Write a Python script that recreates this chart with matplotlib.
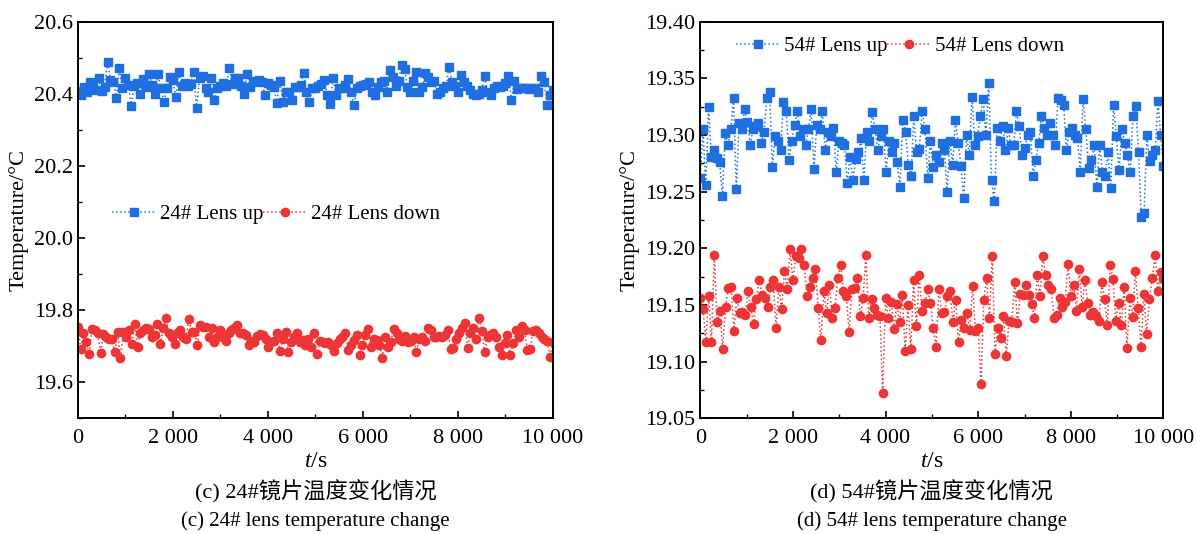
import numpy as np
import matplotlib
matplotlib.use("Agg")
import matplotlib.pyplot as plt
from matplotlib.ticker import MultipleLocator, FuncFormatter

plt.rcParams['font.family'] = ['Liberation Serif', 'Noto Sans CJK SC', 'DejaVu Sans']
plt.rcParams['mathtext.fontset'] = 'custom'
plt.rcParams['mathtext.it'] = 'Liberation Serif:italic'
plt.rcParams['mathtext.rm'] = 'Liberation Serif'

# ---- data: panel (c) 24# lens ----
lens24_up = [20.408, 20.397, 20.420, 20.406, 20.434, 20.423, 20.411, 20.443, 20.408, 20.420,
             20.490, 20.439, 20.434, 20.388, 20.471, 20.416, 20.443, 20.425, 20.366, 20.423,
             20.429, 20.401, 20.441, 20.420, 20.455, 20.425, 20.401, 20.455, 20.416, 20.377,
             20.417, 20.448, 20.439, 20.392, 20.462, 20.423, 20.429, 20.423, 20.427, 20.462,
             20.360, 20.443, 20.451, 20.416, 20.404, 20.443, 20.383, 20.416, 20.423, 20.429,
             20.423, 20.473, 20.427, 20.443, 20.445, 20.423, 20.401, 20.455, 20.420, 20.434,
             20.436, 20.439, 20.434, 20.397, 20.429, 20.425, 20.420, 20.374, 20.436, 20.377,
             20.404, 20.406, 20.383, 20.420, 20.420, 20.425, 20.457, 20.404, 20.378, 20.416,
             20.417, 20.423, 20.427, 20.439, 20.397, 20.371, 20.443, 20.397, 20.417, 20.416,
             20.425, 20.441, 20.406, 20.369, 20.417, 20.423, 20.425, 20.427, 20.434, 20.404,
             20.397, 20.420, 20.434, 20.436, 20.406, 20.467, 20.448, 20.423, 20.436, 20.481,
             20.469, 20.420, 20.404, 20.436, 20.460, 20.406, 20.420, 20.457, 20.448, 20.434,
             20.436, 20.401, 20.406, 20.417, 20.423, 20.476, 20.434, 20.423, 20.406, 20.453,
             20.434, 20.423, 20.411, 20.401, 20.397, 20.399, 20.411, 20.451, 20.404, 20.397,
             20.417, 20.423, 20.420, 20.423, 20.429, 20.451, 20.383, 20.436, 20.414, 20.417,
             20.416, 20.417, 20.414, 20.416, 20.417, 20.404, 20.451, 20.432, 20.369, 20.397,
             20.411]
lens24_down = [19.754, 19.693, 19.735, 19.712, 19.677, 19.747, 19.745, 19.737, 19.681, 19.734,
               19.724, 19.721, 19.721, 19.683, 19.740, 19.668, 19.740, 19.724, 19.745, 19.706,
               19.761, 19.698, 19.737, 19.745, 19.749, 19.747, 19.724, 19.731, 19.761, 19.706,
               19.749, 19.777, 19.735, 19.724, 19.706, 19.735, 19.745, 19.724, 19.721, 19.774,
               19.740, 19.740, 19.703, 19.758, 19.754, 19.752, 19.724, 19.749, 19.710, 19.726,
               19.745, 19.724, 19.714, 19.735, 19.745, 19.749, 19.758, 19.737, 19.735, 19.731,
               19.703, 19.714, 19.712, 19.728, 19.734, 19.731, 19.721, 19.698, 19.712, 19.714,
               19.735, 19.686, 19.719, 19.740, 19.683, 19.712, 19.726, 19.735, 19.710, 19.717,
               19.703, 19.721, 19.698, 19.737, 19.677, 19.714, 19.712, 19.708, 19.710, 19.703,
               19.686, 19.708, 19.721, 19.726, 19.735, 19.690, 19.703, 19.717, 19.731, 19.674,
               19.703, 19.731, 19.747, 19.698, 19.721, 19.717, 19.703, 19.668, 19.724, 19.698,
               19.712, 19.747, 19.735, 19.721, 19.714, 19.728, 19.712, 19.714, 19.726, 19.683,
               19.721, 19.726, 19.714, 19.749, 19.745, 19.726, 19.724, 19.728, 19.726, 19.731,
               19.745, 19.693, 19.696, 19.721, 19.737, 19.749, 19.763, 19.696, 19.737, 19.749,
               19.719, 19.779, 19.743, 19.683, 19.726, 19.731, 19.737, 19.724, 19.698, 19.674,
               19.708, 19.731, 19.674, 19.708, 19.745, 19.726, 19.756, 19.745, 19.688, 19.693,
               19.743, 19.745, 19.735, 19.726, 19.721, 19.714, 19.670, 19.712]

# ---- data: panel (d) 54# lens ----
lens54_up = [19.262, 19.305, 19.256, 19.325, 19.281, 19.287, 19.280, 19.276, 19.246, 19.302,
             19.291, 19.305, 19.333, 19.252, 19.311, 19.305, 19.323, 19.312, 19.291, 19.305,
             19.308, 19.311, 19.293, 19.303, 19.333, 19.338, 19.272, 19.299, 19.295, 19.287,
             19.329, 19.321, 19.278, 19.295, 19.309, 19.321, 19.299, 19.305, 19.291, 19.305,
             19.323, 19.270, 19.309, 19.305, 19.321, 19.287, 19.303, 19.299, 19.306, 19.267,
             19.295, 19.293, 19.291, 19.258, 19.281, 19.260, 19.279, 19.285, 19.297, 19.260,
             19.303, 19.295, 19.320, 19.305, 19.287, 19.299, 19.305, 19.267, 19.295, 19.285,
             19.293, 19.276, 19.254, 19.313, 19.303, 19.274, 19.264, 19.317, 19.285, 19.288,
             19.321, 19.305, 19.262, 19.295, 19.272, 19.282, 19.276, 19.293, 19.287, 19.250,
             19.295, 19.274, 19.313, 19.293, 19.273, 19.244, 19.300, 19.282, 19.334, 19.291,
             19.299, 19.317, 19.332, 19.300, 19.346, 19.260, 19.242, 19.306, 19.295, 19.308,
             19.287, 19.306, 19.291, 19.291, 19.321, 19.308, 19.282, 19.289, 19.300, 19.303,
             19.264, 19.278, 19.293, 19.317, 19.306, 19.300, 19.311, 19.300, 19.291, 19.333,
             19.331, 19.327, 19.287, 19.303, 19.306, 19.300, 19.297, 19.267, 19.332, 19.305,
             19.271, 19.278, 19.291, 19.254, 19.291, 19.267, 19.264, 19.285, 19.253, 19.327,
             19.299, 19.269, 19.305, 19.293, 19.282, 19.267, 19.317, 19.326, 19.285, 19.228,
             19.231, 19.300, 19.277, 19.282, 19.287, 19.330, 19.300, 19.273]
lens54_down = [19.156, 19.146, 19.117, 19.158, 19.117, 19.194, 19.135, 19.145, 19.111, 19.148,
               19.165, 19.166, 19.127, 19.156, 19.143, 19.144, 19.141, 19.162, 19.148, 19.133,
               19.155, 19.172, 19.159, 19.156, 19.148, 19.166, 19.172, 19.130, 19.166, 19.146,
               19.180, 19.164, 19.199, 19.172, 19.193, 19.191, 19.199, 19.185, 19.158, 19.166,
               19.174, 19.182, 19.147, 19.119, 19.162, 19.143, 19.168, 19.138, 19.147, 19.174,
               19.185, 19.162, 19.158, 19.126, 19.164, 19.165, 19.174, 19.140, 19.156, 19.194,
               19.138, 19.155, 19.147, 19.141, 19.140, 19.072, 19.156, 19.138, 19.153, 19.129,
               19.151, 19.135, 19.159, 19.109, 19.150, 19.111, 19.172, 19.131, 19.176, 19.145,
               19.152, 19.164, 19.152, 19.130, 19.113, 19.164, 19.143, 19.144, 19.158, 19.162,
               19.135, 19.154, 19.117, 19.137, 19.130, 19.143, 19.128, 19.167, 19.127, 19.130,
               19.080, 19.154, 19.174, 19.138, 19.193, 19.107, 19.130, 19.121, 19.140, 19.105,
               19.136, 19.135, 19.170, 19.134, 19.160, 19.159, 19.168, 19.159, 19.151, 19.138,
               19.176, 19.158, 19.193, 19.176, 19.168, 19.164, 19.138, 19.141, 19.156, 19.148,
               19.153, 19.186, 19.158, 19.168, 19.145, 19.182, 19.148, 19.172, 19.152, 19.141,
               19.144, 19.140, 19.136, 19.170, 19.155, 19.132, 19.185, 19.173, 19.136, 19.152,
               19.132, 19.166, 19.112, 19.156, 19.139, 19.180, 19.147, 19.113, 19.160, 19.124,
               19.155, 19.174, 19.194, 19.162, 19.179, 19.173]

T_END = 10000
x_ticks = [0, 2000, 4000, 6000, 8000, 10000]
legend_c = ['24# Lens up', '24# Lens down']
legend_d = ['54# Lens up', '54# Lens down']
caption_c = ['(c) 24#镜片温度变化情况', '(c) 24# lens temperature change']
caption_d = ['(d) 54#镜片温度变化情况', '(d) 54# lens temperature change']

BLUE = '#1f6fe0'
RED = '#ee3535'

fig = plt.figure(figsize=(11.97, 5.34), dpi=100)
ax1 = fig.add_axes([0.065, 0.217, 0.397, 0.742])
ax2 = fig.add_axes([0.585, 0.217, 0.387, 0.742])

def thousands(v, pos):
    return f"{int(round(v)):,}".replace(',', ' ')

def style(ax, ylim, ymaj, ymin, yfmt):
    ax.set_xlim(0, T_END)
    ax.set_ylim(*ylim)
    ax.set_xticks(x_ticks)
    ax.xaxis.set_minor_locator(MultipleLocator(1000))
    ax.yaxis.set_major_locator(MultipleLocator(ymaj))
    ax.yaxis.set_minor_locator(MultipleLocator(ymin))
    ax.xaxis.set_major_formatter(FuncFormatter(thousands))
    ax.yaxis.set_major_formatter(FuncFormatter(lambda v, p: yfmt.format(v)))
    ax.tick_params(which='both', direction='in', top=False, right=False, labelsize=16)
    ax.tick_params(which='major', length=5, width=1.2)
    ax.tick_params(which='minor', length=3, width=1.0)
    ax.tick_params(axis='x', pad=8)
    for s in ax.spines.values():
        s.set_linewidth(1.4)
    ax.set_xlabel('$t$/s', fontsize=17, labelpad=2)
    ax.set_ylabel('Temperature/°C', fontsize=16, labelpad=4)

def plot_pair(ax, up, down, labels):
    t_up = np.linspace(0, T_END, len(up))
    t_dn = np.linspace(0, T_END, len(down))
    ax.plot(t_up, up, ls=':', lw=1.1, color=BLUE, marker='s', ms=5.5,
            mec=BLUE, mfc=BLUE, label=labels[0])
    ax.plot(t_dn, down, ls=':', lw=1.1, color=RED, marker='o', ms=6,
            mec=RED, mfc=RED, label=labels[1])

plot_pair(ax1, lens24_up, lens24_down, legend_c)
plot_pair(ax2, lens54_up, lens54_down, legend_d)
style(ax1, (19.5, 20.6), 0.2, 0.1, '{:.1f}')
style(ax2, (19.05, 19.40), 0.05, 0.025, '{:.2f}')

leg_kw = dict(ncol=2, frameon=False, fontsize=15, handlelength=2.1,
              columnspacing=0.0, handletextpad=0.2, borderaxespad=0.2)
ax1.legend(loc='center left', bbox_to_anchor=(0.045, 0.515), **leg_kw)
ax2.legend(loc='upper left', bbox_to_anchor=(0.05, 0.995), **leg_kw)

cap_font = ['Liberation Serif', 'Noto Sans CJK SC']
for ax, cap in ((ax1, caption_c), (ax2, caption_d)):
    pos = ax.get_position()
    cx = pos.x0 + pos.width / 2
    fig.text(cx, 1 - 492 / 534, cap[0], ha='center', va='center', fontsize=16, family=cap_font)
    fig.text(cx, 1 - 521 / 534, cap[1], ha='center', va='center', fontsize=15, family=cap_font)

fig.savefig('out.png', dpi=100)
